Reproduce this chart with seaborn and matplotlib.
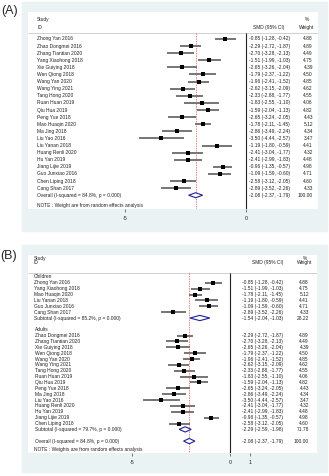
import numpy as np
import pandas as pd
import matplotlib
matplotlib.use("Agg")
import matplotlib.pyplot as plt
from matplotlib.patches import Rectangle, Polygon
import seaborn as sns

# 数据
studies = ["Zhong Yan 2016", "Zhao Dongmei 2016", "Zhang Tiantian 2020", "Yang Xiaohong 2018",
           "Xie Guiying 2018", "Wen Qiong 2018", "Wang Yan 2020", "Wang Ying 2021",
           "Tang Hong 2020", "Ruan Huan 2019", "Qiu Hua 2019", "Peng Yue 2018",
           "Mao Huaqin 2020", "Ma Jing 2018", "Liu Yao 2016", "Liu Yanan 2018",
           "Huang Renli 2020", "Hu Yan 2019", "Jiang Lijie 2019", "Guo Junxiao 2016",
           "Chen Liping 2018", "Cang Shan 2017"]
smd = [-0.85, -2.29, -2.70, -1.51, -2.65, -1.79, -1.96, -2.62, -2.33, -1.83, -1.59, -2.65,
       -1.78, -2.86, -3.50, -1.19, -2.41, -2.41, -0.96, -1.09, -2.58, -2.89]
ci_lo = [-1.28, -2.72, -3.28, -1.99, -3.26, -2.37, -2.41, -3.15, -2.88, -2.55, -2.04, -3.24,
         -2.11, -3.49, -4.44, -1.80, -3.04, -2.99, -1.35, -1.59, -3.12, -3.52]
ci_hi = [-0.42, -1.87, -2.13, -1.03, -2.04, -1.22, -1.52, -2.09, -1.77, -1.10, -1.13, -2.05,
         -1.45, -2.24, -2.57, -0.59, -1.77, -1.83, -0.57, -0.60, -2.05, -2.26]
weight = [4.88, 4.89, 4.49, 4.75, 4.39, 4.50, 4.85, 4.62, 4.55, 4.06, 4.82, 4.43,
          5.12, 4.34, 3.47, 4.41, 4.32, 4.48, 4.98, 4.71, 4.60, 4.33]

overall = (-2.08, -2.37, -1.79, 100.00)

children = ["Zhong Yan 2016", "Yang Xiaohong 2018", "Mao Huaqin 2020", "Liu Yanan 2018",
            "Guo Junxiao 2016", "Cang Shan 2017"]
adults = ["Zhao Dongmei 2016", "Zhang Tiantian 2020", "Xie Guiying 2018", "Wen Qiong 2018",
          "Wang Yan 2020", "Wang Ying 2021", "Tang Hong 2020", "Ruan Huan 2019", "Qiu Hua 2019",
          "Peng Yue 2018", "Ma Jing 2018", "Liu Yao 2016", "Huang Renli 2020", "Hu Yan 2019",
          "Jiang Lijie 2019", "Chen Liping 2018"]
sub_children = (-1.54, -2.04, -1.03, 28.22)
sub_adults = (-2.29, -2.59, -1.98, 71.78)
i2_children, i2_adults, i2_all = 85.2, 79.7, 84.8

tbl = pd.DataFrame({"study": studies, "smd": smd, "lo": ci_lo, "hi": ci_hi, "w": weight}).set_index("study")

# 画布
W, H = 329, 476
BG = "#eaf2f3"
FS = 3.55
sns.set_style("white")
plt.rcParams['font.family'] = ['Liberation Sans', 'DejaVu Sans']
fig = plt.figure(figsize=(W / 100, H / 100), dpi=100)


def rect(l, t, r, b):
    return [l / W, 1 - b / H, (r - l) / W, (b - t) / H]


for (l, t, r, b) in [(22, 2, 327, 231), (22, 245, 327, 472)]:
    fig.add_artist(Rectangle((l / W, 1 - b / H), (r - l) / W, (b - t) / H,
                             transform=fig.transFigure, color=BG, zorder=0))
fig.text(1 / W, 1 - 11 / H, "(A)", fontsize=9, va="center")
fig.text(0 / W, 1 - 256 / H, "(B)", fontsize=9, va="center")


def fmt(m, lo, hi):
    return f"{m:.2f} ({lo:.2f}, {hi:.2f})"


def panel(ax, rows, ylim, px_left, px_width, cols, hdr, dh, xticks, note):
    # rows: 每行一个 dict (label,row,kind,smd,lo,hi,w)
    df = pd.DataFrame(rows)
    ax.set_facecolor("white")
    ax.set_ylim(*ylim)
    for s in ax.spines.values():
        s.set_visible(False)
    st = df[df.kind == "study"]
    ax.hlines(st["row"], st["lo"], st["hi"], color="#4f4f4f", lw=1.1, zorder=2)
    sns.scatterplot(data=st, x="smd", y="row", marker="s", color="black", s=5,
                    edgecolor="black", linewidth=0, legend=False, ax=ax, zorder=3)
    for _, r in df[df.kind.isin(["sub", "overall"])].iterrows():
        ax.add_patch(Polygon([(r.lo, r.row), (r.smd, r.row - dh), (r.hi, r.row), (r.smd, r.row + dh)],
                             closed=True, facecolor="white", edgecolor="#1f1f9a", lw=0.8, zorder=3))
    bottom = ylim[0]
    ax.axhline(hdr["line"], color="#c9c9c9", lw=0.6)
    ax.vlines(0, hdr["line"], bottom, color="#222222", lw=0.8)
    ax.vlines(overall[0], hdr["line"], bottom, color="#d9534f", lw=0.5, ls=(0, (2, 1.5)))
    ax.set_xticks(xticks)
    ax.set_xticklabels([str(t) for t in xticks])
    ax.set_yticks([])
    ax.set_xlabel("")
    ax.set_ylabel("")
    ax.tick_params(axis="x", length=2.5, width=0.5, color="#444444", labelsize=FS + 0.2,
                   pad=2.5, labelcolor="#222222", bottom=True)

    tr = ax.get_yaxis_transform()
    fx = lambda px: (px - px_left) / px_width
    kw = dict(fontsize=FS, va="center", color="#222222", transform=tr)
    ax.text(fx(cols["name"]), hdr["study"], "Study", **kw)
    ax.text(fx(cols["name"]), hdr["id"], "ID", **kw)
    ax.text(fx(cols["smd_hdr"]), hdr["id"], "SMD (95% CI)", ha="center", **kw)
    ax.text(fx(cols["w_hdr"]), hdr["study"], "%", ha="center", **kw)
    ax.text(fx(cols["w_hdr"]), hdr["id"], "Weight", ha="center", **kw)
    for _, r in df.iterrows():
        ax.text(fx(cols["name"] + r.indent), r.row, r.label, **kw)
        if r.kind != "group":
            ax.text(fx(cols["ci"]), r.row, fmt(r.smd, r.lo, r.hi), **kw)
            ax.text(fx(cols["w"]), r.row, f"{r.w:.2f}", ha="right", **kw)
    ax.text(fx(cols["name"]), note[0], note[1], **kw)


def px_xlim(l, r, zero_px, unit_px):
    return ((l - zero_px) / unit_px, (r - zero_px) / unit_px)


# (A) 全部研究
rows_a = []
for i, s in enumerate(studies):
    r = tbl.loc[s]
    rows_a.append(dict(label=s, row=i, kind="study", smd=r.smd, lo=r.lo, hi=r.hi, w=r.w, indent=0))
rows_a.append(dict(label=f"Overall (I-squared = {i2_all}%, p = 0.000)", row=len(studies), kind="overall",
                   smd=overall[0], lo=overall[1], hi=overall[2], w=overall[3], indent=0))
axA = fig.add_axes(rect(28, 12, 318, 209))
axA.set_xlim(*px_xlim(28, 318, 246, 24.2))
panel(axA, rows_a, (23.94, -3.8), 28, 290,
      dict(name=37, ci=249, w=313, smd_hdr=269, w_hdr=307),
      dict(line=-0.85, study=-2.7, id=-1.55), 0.35, [-5, 0],
      (23.5, "NOTE : Weight are from random effects analysis"))

# (B) 按人群分组
rows_b = [dict(label="Children", row=0, kind="group", smd=np.nan, lo=np.nan, hi=np.nan, w=np.nan, indent=0)]
row = 1
for s in children:
    r = tbl.loc[s]
    rows_b.append(dict(label=s, row=row, kind="study", smd=r.smd, lo=r.lo, hi=r.hi, w=r.w, indent=0))
    row += 1
rows_b.append(dict(label=f"Subtotal (I-squared = {i2_children}%, p = 0.000)", row=row, kind="sub",
                   smd=sub_children[0], lo=sub_children[1], hi=sub_children[2], w=sub_children[3], indent=0))
row += 2
rows_b.append(dict(label="Adults", row=row, kind="group", smd=np.nan, lo=np.nan, hi=np.nan, w=np.nan, indent=1.5))
row += 1
for s in adults:
    r = tbl.loc[s]
    rows_b.append(dict(label=s, row=row, kind="study", smd=r.smd, lo=r.lo, hi=r.hi, w=r.w, indent=1.5))
    row += 1
rows_b.append(dict(label=f"Subtotal (I-squared = {i2_adults}%, p = 0.000)", row=row, kind="sub",
                   smd=sub_adults[0], lo=sub_adults[1], hi=sub_adults[2], w=sub_adults[3], indent=1.5))
row += 2
rows_b.append(dict(label=f"Overall (I-squared = {i2_all}%, p = 0.000)", row=row, kind="overall",
                   smd=overall[0], lo=overall[1], hi=overall[2], w=overall[3], indent=1.5))
axB = fig.add_axes(rect(28, 255, 317, 453))
axB.set_xlim(*px_xlim(28, 317, 230, 19.6))
panel(axB, rows_b, (30.03, -3.75), 28, 289,
      dict(name=33.5, ci=242, w=309, smd_hdr=268, w_hdr=305),
      dict(line=-0.68, study=-3.07, id=-2.39), 0.45, [-5, 0, 1],
      (29.4, "NOTE : Weights are from random effects analysis"))

fig.savefig("out.png", dpi=100)
